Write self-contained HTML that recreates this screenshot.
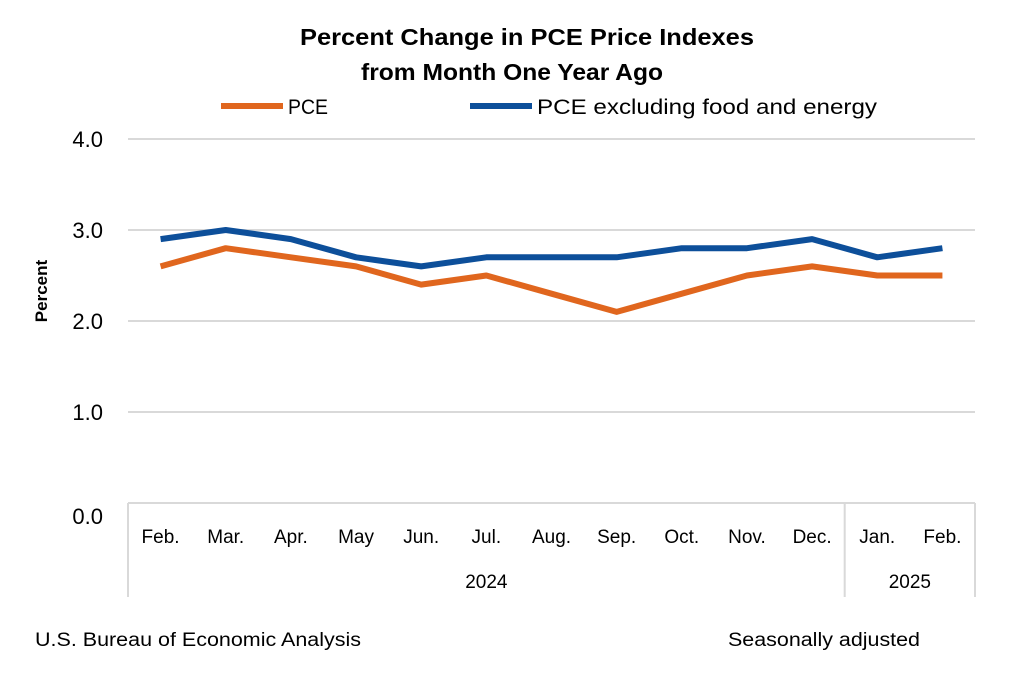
<!DOCTYPE html>
<html><head><meta charset="utf-8"><style>
body{margin:0;background:#fff;width:1024px;height:679px;overflow:hidden;font-family:"Liberation Sans",sans-serif}
</style></head><body>
<svg id="chart" width="1024" height="679" xmlns="http://www.w3.org/2000/svg" font-family="Liberation Sans, sans-serif">
<text x="300" y="45" font-size="23" font-weight="bold" textLength="454" lengthAdjust="spacingAndGlyphs">Percent Change in PCE Price Indexes</text>
<text x="361" y="80" font-size="23" font-weight="bold" textLength="302" lengthAdjust="spacingAndGlyphs">from Month One Year Ago</text>
<g><line x1="221" y1="106" x2="283" y2="106" stroke="#E0661E" stroke-width="6"/><text x="288" y="114" font-size="21" textLength="40" lengthAdjust="spacingAndGlyphs">PCE</text></g>
<g><line x1="470" y1="106" x2="532" y2="106" stroke="#0D4F9A" stroke-width="6"/><text x="537" y="114" font-size="21" textLength="340" lengthAdjust="spacingAndGlyphs">PCE excluding food and energy</text></g>
<text transform="translate(47,291) rotate(-90)" text-anchor="middle" font-size="17" font-weight="bold">Percent</text>
<g id="grid"></g><g id="axes"></g><g id="series"></g>
<text x="35" y="646" font-size="19" textLength="326" lengthAdjust="spacingAndGlyphs">U.S. Bureau of Economic Analysis</text>
<text x="728" y="646" font-size="19" textLength="192" lengthAdjust="spacingAndGlyphs">Seasonally adjusted</text>
</svg>
<script>
const categories=["Feb.","Mar.","Apr.","May","Jun.","Jul.","Aug.","Sep.","Oct.","Nov.","Dec.","Jan.","Feb."];
const pceValues=[2.6,2.8,2.7,2.6,2.4,2.5,2.3,2.1,2.3,2.5,2.6,2.5,2.5];
const coreValues=[2.9,3.0,2.9,2.7,2.6,2.7,2.7,2.7,2.8,2.8,2.9,2.7,2.8];
const yTicks=[0,1,2,3,4];
const years=[{label:"2024",start:0,end:11},{label:"2025",start:11,end:13}];
const NS="http://www.w3.org/2000/svg";
const L=128,R=975,T=139,B=503;
const x=i=>L+(R-L)/categories.length*(i+0.5);
const xe=i=>L+(R-L)/categories.length*i;
const y=v=>B-(B-T)*v/4;
function mk(tag,attrs,parent){const e=document.createElementNS(NS,tag);for(const k in attrs)e.setAttribute(k,attrs[k]);document.getElementById(parent).appendChild(e);return e;}
yTicks.forEach(v=>{
 if(v>0){const g=mk("line",{x1:L,x2:R,y1:y(v),y2:y(v),stroke:"#d9d9d9","stroke-width":2},"grid");
 
 }
 const t=mk("text",{x:103,y:v===0?y(v)+21:y(v)+8,"text-anchor":"end","font-size":22},"axes");t.textContent=v.toFixed(1);
 
 
});
const ax=mk("line",{x1:L,x2:R,y1:B,y2:B,stroke:"#d9d9d9","stroke-width":2},"axes");


categories.forEach((c,i)=>{const t=mk("text",{x:x(i),y:543,"text-anchor":"middle","font-size":19},"axes");t.textContent=c;
 
 });
[0,11,13].forEach(i=>{const l=mk("line",{x1:xe(i),x2:xe(i),y1:B,y2:597,stroke:"#d9d9d9","stroke-width":2},"axes");
 
 });
years.forEach(yr=>{const t=mk("text",{x:(xe(yr.start)+xe(yr.end))/2,y:588,"text-anchor":"middle","font-size":19},"axes");t.textContent=yr.label;
 
 });
function line(vals,color,name){const p=mk("polyline",{points:vals.map((v,i)=>x(i)+","+y(v)).join(" "),fill:"none",stroke:color,"stroke-width":6,"stroke-linejoin":"round"},"series");
 
 }
line(pceValues,"#E0661E","pce-line");
line(coreValues,"#0D4F9A","core-pce-line");
</script>
</body></html>
